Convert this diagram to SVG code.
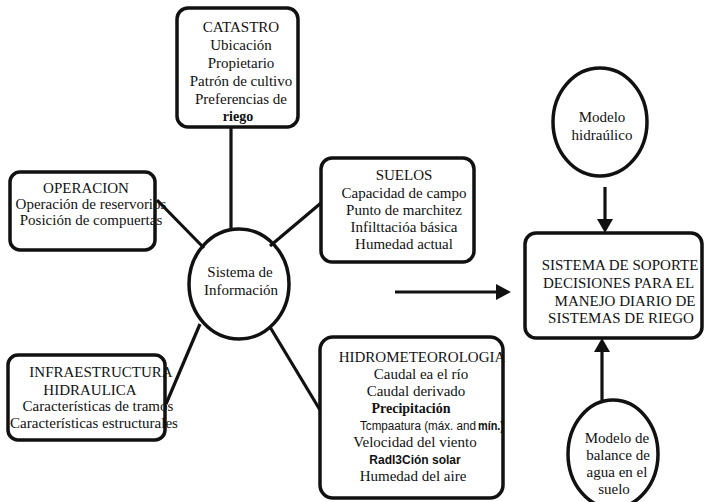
<svg xmlns="http://www.w3.org/2000/svg" width="705" height="502" viewBox="0 0 705 502" font-family="'Liberation Serif', 'DejaVu Serif', serif">
<style>
.box{fill:none;stroke:#111;stroke-width:3.5}
.node{fill:none;stroke:#111;stroke-width:3.5}
.ln{stroke:#111;stroke-width:3.2;fill:none}
.t{font-family:'Liberation Serif','DejaVu Serif',serif;font-size:15px;fill:#111;text-anchor:middle}
.b{font-weight:bold}
.sans{font-family:'Liberation Sans','DejaVu Sans',sans-serif;font-size:12px}
.st{text-anchor:start}
</style>
<defs>
<clipPath id="clipR"><rect x="0" y="0" width="701" height="502"/></clipPath>
</defs>
<rect width="705" height="502" fill="#fff"/>
<g id="connectors">
<line class="ln" x1="231" y1="127" x2="231" y2="230"/>
<line class="ln" x1="157" y1="200" x2="204" y2="248"/>
<line class="ln" x1="321" y1="203" x2="270" y2="246"/>
<line class="ln" x1="200" y1="324" x2="166" y2="404"/>
<line class="ln" x1="270" y1="327" x2="320" y2="410"/>
<line class="ln" x1="395" y1="292" x2="500" y2="292"/>
<polygon points="496,284 511,292 496,300" fill="#111"/>
<line class="ln" x1="605" y1="187" x2="605" y2="222"/>
<polygon points="597,219 613,219 605,233" fill="#111"/>
<line class="ln" x1="602" y1="400" x2="602" y2="349"/>
<polygon points="594,352 610,352 602,338" fill="#111"/>
</g>
<g id="catastro">
<rect class="box" x="177" y="8" width="121" height="119" rx="11"/>
<text class="t" x="241" y="32">CATASTRO</text>
<text class="t" x="241" y="50">Ubicación</text>
<text class="t" x="241" y="68">Propietario</text>
<text class="t" x="241" y="86">Patrón de cultivo</text>
<text class="t" x="241" y="104">Preferencias de</text>
<text class="t b" x="238" y="121" style="font-size:14px">riego</text>
</g>
<g id="operacion">
<rect class="box" x="10" y="172" width="145" height="78" rx="10"/>
<text class="t" x="86" y="193">OPERACION</text>
<text class="t" x="91" y="209">Operación de reservorios</text>
<text class="t" x="91" y="225">Posición de compuertas</text>
</g>
<g id="suelos">
<rect class="box" x="321" y="158" width="153" height="104" rx="11"/>
<text class="t" x="404" y="180">SUELOS</text>
<text class="t" x="404" y="198">Capacidad de campo</text>
<text class="t" x="404" y="215">Punto de marchitez</text>
<text class="t" x="404" y="232">Infilttacióa básica</text>
<text class="t" x="404" y="249">Humedad actual</text>
</g>
<g id="sistema-info">
<ellipse class="node" cx="239" cy="284" rx="50" ry="55" fill="#fff"/>
<text class="t" x="240" y="277">Sistema de</text>
<text class="t" x="241" y="295">Información</text>
</g>
<g id="infraestructura">
<rect class="box" x="8" y="355" width="157" height="85" rx="10"/>
<text class="t" x="101" y="377">INFRAESTRUCTURA</text>
<text class="t" x="90" y="395">HIDRAULICA</text>
<text class="t" x="98" y="411">Características de tramos</text>
<text class="t" x="94" y="428">Características estructurales</text>
</g>
<g id="hidrometeorologia">
<rect class="box" x="320" y="337" width="183" height="161" rx="13"/>
<text class="t" x="422" y="362">HIDROMETEOROLOGIA</text>
<text class="t" x="421" y="379">Caudal ea el río</text>
<text class="t" x="416" y="396">Caudal derivado</text>
<text class="t b" x="411" y="413" style="font-size:14px">Precipitación</text>
<text class="t sans st" x="360" y="430" textLength="116" lengthAdjust="spacingAndGlyphs">Tcmpaatura (máx. and</text>
<text class="t sans st b" x="478" y="430" textLength="26" lengthAdjust="spacingAndGlyphs">mín.)</text>
<text class="t" x="415" y="447">Velocidad del viento</text>
<text class="t sans b" x="415" y="464">Radl3Ción solar</text>
<text class="t" x="413" y="481">Humedad del aire</text>
</g>
<g id="modelo-hidraulico">
<ellipse class="node" cx="600" cy="122" rx="47" ry="54"/>
<text class="t" x="602" y="122">Modelo</text>
<text class="t" x="602" y="140">hidraúlico</text>
</g>
<g id="sistema-soporte">
<rect class="box" x="525" y="233" width="177" height="105" rx="11"/>
<g clip-path="url(#clipR)">
<text class="t" x="620" y="270">SISTEMA DE SOPORTE</text>
<text class="t st" x="543" y="288">DECISIONES PARA EL</text>
<text class="t" x="625" y="306">MANEJO DIARIO DE</text>
<text class="t" x="621" y="323">SISTEMAS DE RIEGO</text>
</g>
</g>
<g id="modelo-balance">
<ellipse class="node" cx="613" cy="454" rx="45" ry="54"/>
<text class="t" x="617" y="443">Modelo de</text>
<text class="t" x="618" y="460">balance de</text>
<text class="t" x="617" y="477">agua en el</text>
<text class="t" x="614" y="494">suelo</text>
</g>
</svg>
